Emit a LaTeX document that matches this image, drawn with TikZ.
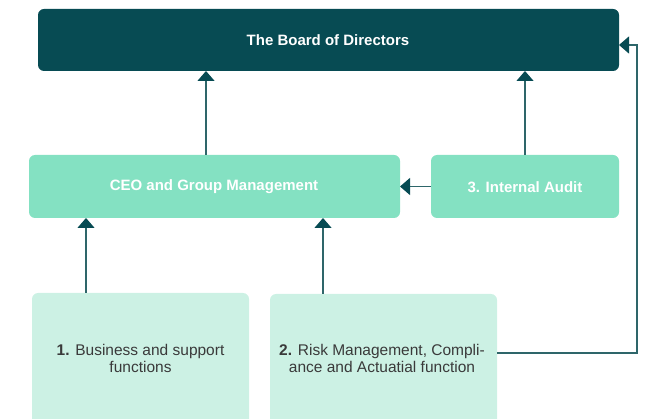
\documentclass[tikz,border=0pt]{standalone}
\usepackage{fontspec}
\setmainfont{Liberation Sans}
\usetikzlibrary{arrows.meta,calc}
\definecolor{boardc}{HTML}{074B53}
\definecolor{ceoc}{HTML}{84E1C2}
\definecolor{lowc}{HTML}{CCF1E4}
\definecolor{linec}{HTML}{2E666A}
\definecolor{txtc}{HTML}{3A3A3A}
\tikzset{
  box/.style={rounded corners=6pt, inner sep=0pt, outer sep=0pt},
  toptxt/.style={text=white, font=\fontsize{15}{17}\selectfont\bfseries},
  lowtxt/.style={text=txtc, font=\fontsize{15.5}{17}\selectfont, align=center},
  arr/.style={draw=linec, line width=1.3pt, -{Triangle[width=17pt,length=10pt,fill=boardc,color=boardc]}}
}
\begin{document}
\begin{tikzpicture}[x=1pt,y=1pt]
\useasboundingbox (0,0) rectangle (648,418);
\begin{scope}
\clip (0,0) rectangle (648,418);
\node[box, fill=boardc, minimum width=581pt, minimum height=62pt] (board) at (328.5,378) {};
\node[box, fill=ceoc, minimum width=371pt, minimum height=63pt] (ceo) at (214.5,231.5) {};
\node[box, fill=ceoc, minimum width=188pt, minimum height=63pt] (audit) at (525,231.5) {};
\node[box, fill=lowc, minimum width=217pt, minimum height=135pt] (b1) at (140.5,57.5) {};
\node[box, fill=lowc, minimum width=227pt, minimum height=134pt] (b2) at (383.5,57) {};
\end{scope}
\node[toptxt] (tboard) at (328,378) {The Board of Directors};
\node[toptxt] (tceo) at (214,231) {CEO and Group Management};
\node[toptxt] (taudit) at (525,231) {3. Internal Audit};
\node[lowtxt] (t1) at (140.5,60) {\textbf{1.} Business and support\\functions};
\node[lowtxt] (t2) at (382,60) {\textbf{2.} Risk Management, Compli-\\ance and Actuatial function};
% arrows
\draw[arr] ($(ceo.north west)+(177,0)$) coordinate (c1) -- (c1 |- board.south);
\draw[arr] ($(audit.north west)+(94,0)$) coordinate (c2) -- (c2 |- board.south);
\draw[arr] (audit.west) -- (ceo.east);
\draw[arr] ($(b1.north west)+(54,0)$) coordinate (c3) -- (c3 |- ceo.south);
\draw[arr] ($(b2.north west)+(53,0)$) coordinate (c4) -- (c4 |- ceo.south);
\coordinate (r1) at ($(b2.west)+(0,8)$);
\coordinate (e1) at (637,0);
\coordinate (e2) at ($(board.east)+(0,-5)$);
\draw[arr] (r1 -| b2.east) -- (r1 -| e1) -- (e2 -| e1) -- (e2);
\end{tikzpicture}
\end{document}
